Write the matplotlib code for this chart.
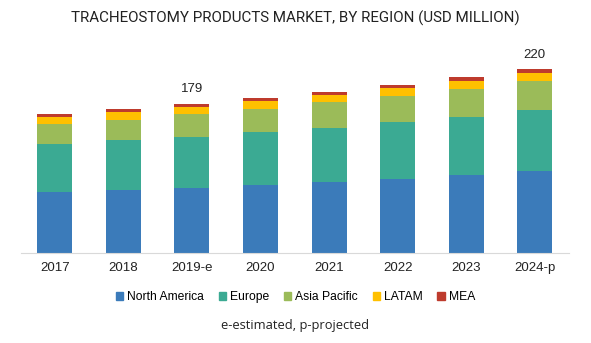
import numpy as np
from matplotlib import pyplot as plt
from matplotlib.patches import Patch

years = ["2017", "2018", "2019-e", "2020", "2021", "2022", "2023", "2024-p"]
north_america = [73.7, 76.1, 78.5, 81.7, 85.3, 89.2, 93.7, 98.8]
europe = [57.4, 59.1, 61.0, 63.8, 65.0, 68.2, 69.7, 73.0]
asia_pacific = [23.9, 24.6, 27.5, 27.5, 30.4, 31.1, 33.5, 34.7]
latam = [8.4, 9.2, 8.0, 9.2, 8.7, 9.2, 9.2, 8.9]
mea = [3.2, 3.6, 4.0, 3.6, 3.6, 4.0, 4.4, 4.8]
labelled = {"2019-e": "179", "2024-p": "220"}

series = [("North America", north_america, "#3B7BBA"),
          ("Europe", europe, "#3BAA93"),
          ("Asia Pacific", asia_pacific, "#9BBB59"),
          ("LATAM", latam, "#FFC000"),
          ("MEA", mea, "#BE3B2D")]

fig = plt.figure(figsize=(5.91, 3.43), dpi=100)
ax = fig.add_axes([20.5 / 591, 1 - 253.3 / 343, (569 - 20.5) / 591, (253.3 - 52.7) / 343])

x = np.arange(len(years))
bottom = np.zeros(len(years))
for name, vals, color in series:
    ax.bar(x, vals, 0.51, bottom=bottom, color=color, label=name)
    bottom += np.array(vals)

for i, yr in enumerate(years):
    if yr in labelled:
        ax.text(i, bottom[i] + 10, labelled[yr], ha="center", va="bottom",
                fontsize=9.5, family="Liberation Sans", color="#222222")

ax.set_xlim(-0.5, len(years) - 0.5)
ax.set_ylim(0, 240)
ax.set_yticks([])
for s in ["top", "right", "left"]:
    ax.spines[s].set_visible(False)
ax.spines["bottom"].set_color("#D9D9D9")
ax.set_xticks(x)
ax.set_xticklabels(years, fontsize=9.5, family="Liberation Sans", color="#222222")
ax.tick_params(axis="x", length=0, pad=6)

fig.text(0.5, 1 - 18 / 343, "TRACHEOSTOMY PRODUCTS MARKET, BY REGION (USD MILLION)",
         ha="center", va="center", fontsize=10.9, family="Roboto", color="#222222")

handles = [Patch(color=c, label=n) for n, _, c in series]
fig.legend(handles=handles, loc="center", bbox_to_anchor=(0.5, 1 - 297 / 343), ncol=5,
           frameon=False, handlelength=0.6, handleheight=0.6, handletextpad=0.35,
           columnspacing=1.2, prop={"family": "Liberation Sans", "size": 8.7})

fig.text(0.5, 1 - 326 / 343, "e-estimated, p-projected", ha="center", va="center",
         fontsize=9.3, family="Open Sans", color="#222222")

fig.savefig("out.png", dpi=100)
